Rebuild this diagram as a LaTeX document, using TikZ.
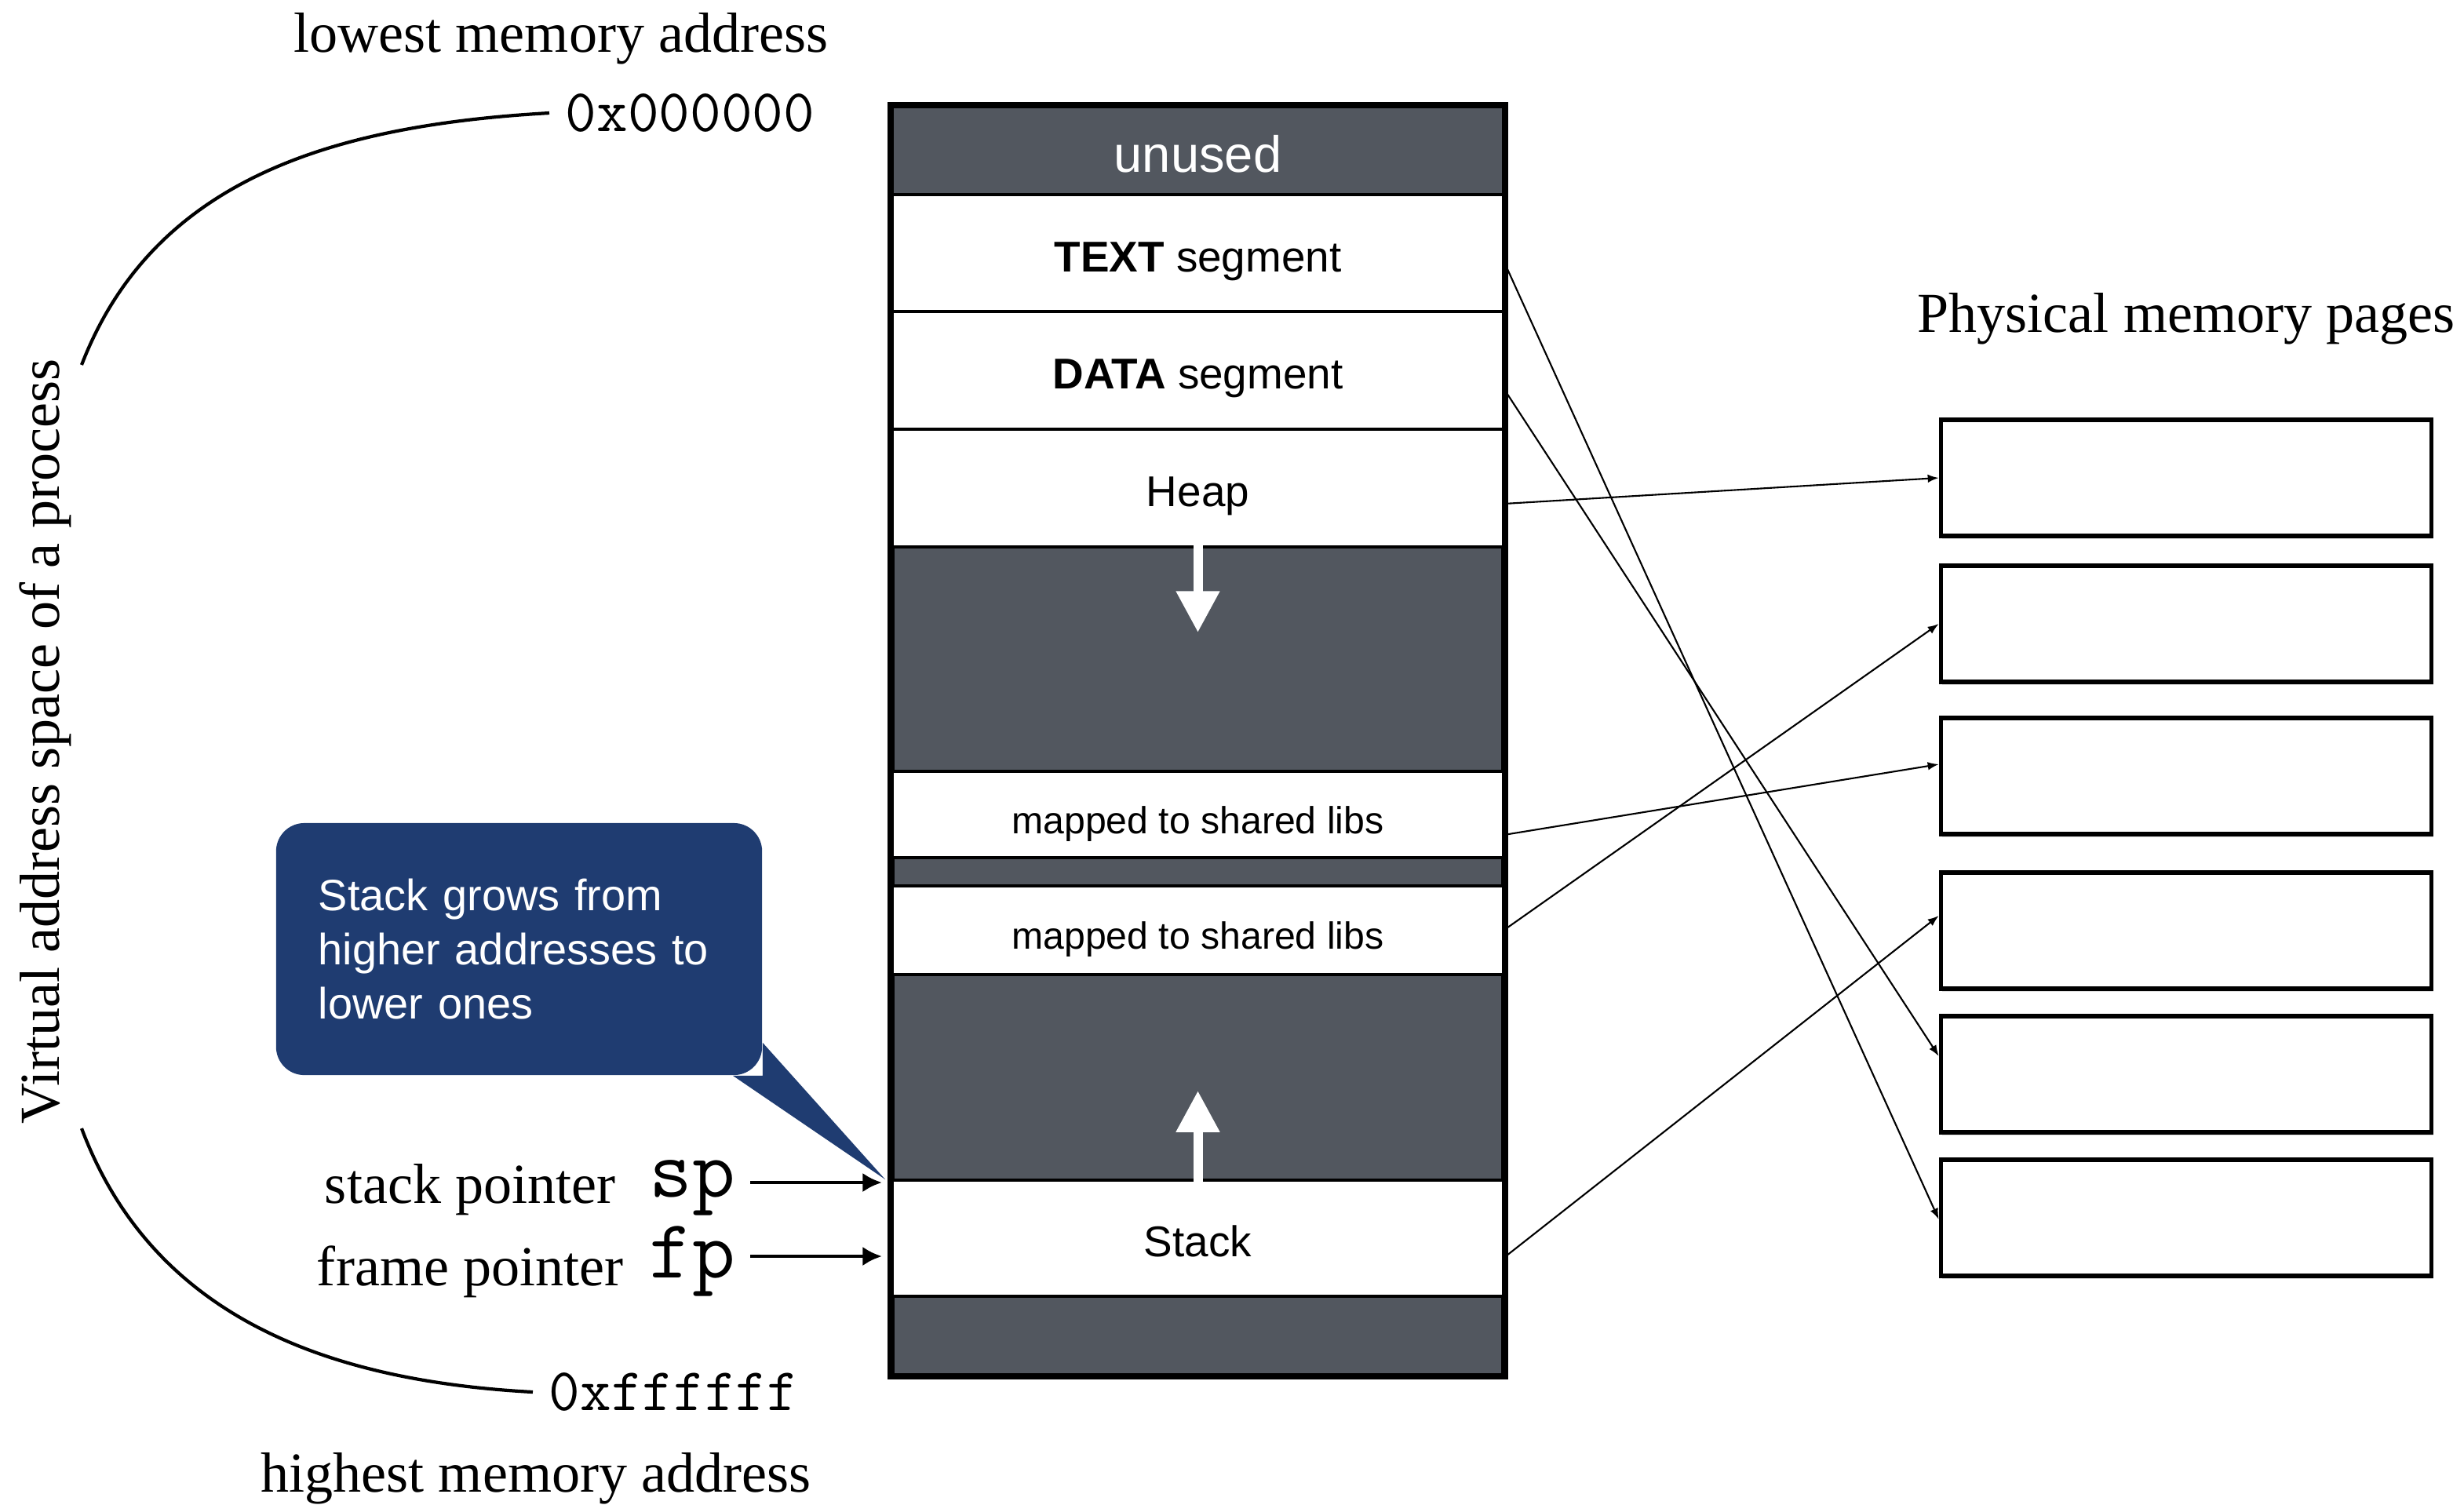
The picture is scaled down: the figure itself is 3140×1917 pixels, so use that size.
\documentclass[tikz,border=0pt]{standalone}
\usepackage{fontspec}
\setmainfont{Liberation Serif}
\setsansfont{Liberation Sans}
\usepackage{tikz}
\usetikzlibrary{arrows.meta,shadows}
\definecolor{gapgray}{HTML}{52575F}
\definecolor{notenavy}{HTML}{1F3C71}
\tikzstyle{Segment}=[rectangle, draw=black, line width=1.3pt, fill=white, minimum width=7.79cm, inner sep=0, outer sep=0, text height=13.4pt, text depth=0pt, font=\sffamily\fontsize{15.6}{18}\selectfont]
\tikzstyle{Page}=[rectangle, draw=black, line width=1.5pt, fill=white, minimum width=6.25cm, minimum height=1.48cm, drop shadow={shadow xshift=0.6pt, shadow yshift=-1.2pt, opacity=0.25}]
\tikzstyle{Serif}=[inner sep=0, font=\fontsize{20.5}{24}\selectfont]
\tikzstyle{Addr}=[inner sep=0, inner xsep=0.2cm, font=\ttfamily\fontsize{21.9}{24}\selectfont]
\tikzstyle{Reg}=[inner sep=0, inner xsep=0.18cm, font=\ttfamily\fontsize{30.3}{34}\selectfont]
\tikzstyle{Note}=[rectangle, fill=notenavy, text=white, rounded corners=0.36cm, minimum width=6.19cm, minimum height=3.21cm, text width=5.11cm, inner xsep=0.54cm, align=left, font=\sffamily\fontsize{15.9}{19.6}\selectfont]
\tikzstyle{Map}=[-{Latex[length=4pt,width=3pt]}, line width=0.6pt]
\tikzstyle{Pointer}=[-{Latex[length=7pt,width=7pt]}, line width=1.4pt]
\tikzstyle{Grow}=[draw=white, line width=3.4pt, -{Triangle[length=15pt,width=15pt]}, shorten <=-3pt]

\begin{document}
\begin{tikzpicture}[x=0.01cm, y=-0.01cm]
    \useasboundingbox (0,0) rectangle (3140,1917);

    % virtual address space
    \path (1526.5,944) node[rectangle, draw=black, line width=1.7pt, fill=gapgray, minimum width=7.79cm, minimum height=16.16cm] (mem) {};
    \path
    (1526.5,192) node[Segment, fill=gapgray, text=white, minimum height=1.12cm, text height=15.4pt, font=\sffamily\fontsize{18.5}{22}\selectfont] (unused) {unused}
    (1526.5,322.5) node[Segment, minimum height=1.49cm] (text) {\textbf{TEXT} segment}
    (1526.5,472) node[Segment, minimum height=1.5cm] (data) {\textbf{DATA} segment}
    (1526.5,622) node[Segment, minimum height=1.5cm] (heap) {Heap}
    (1526.5,1038) node[Segment, minimum height=1.1cm, text height=13.8pt, font=\sffamily\fontsize{13.7}{16}\selectfont] (libsa) {mapped to shared libs}
    (1526.5,1185.5) node[Segment, minimum height=1.13cm, text height=13.8pt, font=\sffamily\fontsize{13.7}{16}\selectfont] (libsb) {mapped to shared libs}
    (1526.5,1578) node[Segment, minimum height=1.48cm] (stack) {Stack};

    \coordinate (heapend) at (1526.5,806);
    \coordinate (stackend) at (1526.5,1390);
    \draw[Grow] (heap.south) -- (heapend);
    \draw[Grow] (stack.north) -- (stackend);
    \draw[line width=1.7pt] (mem.north west) rectangle (mem.south east);

    % physical pages
    \path
    (2786,423) node[Serif, anchor=base] (phys) {Physical memory pages}
    (2786,609) node[Page] (pga) {}
    (2786,795) node[Page] (pgb) {}
    (2786,989) node[Page] (pgc) {}
    (2786,1186) node[Page] (pgd) {}
    (2786,1369) node[Page] (pge) {}
    (2786,1552) node[Page] (pgf) {};

    \draw[Map] ([yshift=-0.1cm]text.east) -- ([yshift=-0.02cm]pgf.west);
    \draw[Map] ([yshift=-0.23cm]data.east) -- ([yshift=0.23cm]pge.west);
    \draw[Map] ([yshift=-0.2cm]heap.east) -- (pga.west);
    \draw[Map] ([yshift=-0.26cm]libsa.east) -- ([yshift=0.15cm]pgc.west);
    \draw[Map] (libsb.east) -- (pgb.west);
    \draw[Map] ([yshift=-0.25cm]stack.east) -- ([yshift=0.19cm]pgd.west);

    % address range
    \path
    (715,66) node[Serif, anchor=base] (lowest) {lowest memory address}
    (700,144) node[Addr, anchor=west] (lo) {0x000000}
    (679,1774) node[Addr, anchor=west] (hi) {0xffffff}
    (683,1901) node[Serif, anchor=base] (highest) {highest memory address}
    (58,945) node[Serif, rotate=90] (vas) {Virtual address space of a process};

    \coordinate (vtop) at (104,465);
    \coordinate (vbot) at (104,1438);
    \draw[line width=1.2pt] (lo.west) .. controls (420,160) and (195,230) .. (vtop);
    \draw[line width=1.2pt] (hi.west) .. controls (420,1760) and (195,1680) .. (vbot);

    % pointers
    \path
    (785,1533) node[Serif, anchor=base east] (stackptr) {stack pointer}
    (809,1525) node[Reg, anchor=base west] (sp) {sp}
    (795,1638) node[Serif, anchor=base east] (frameptr) {frame pointer}
    (809,1628) node[Reg, anchor=base west] (fp) {fp};

    \coordinate (spend) at (1124,1507);
    \coordinate (fpend) at (1124,1601);
    \draw[Pointer] (sp.east |- spend) -- (spend);
    \draw[Pointer] (fp.east |- fpend) -- (fpend);

    % callout
    \path (661.5,1209.5) node[Note] (note) {Stack grows from\\higher addresses to\\lower ones};
    \coordinate (notetip) at (1128,1503);
    \fill[notenavy] ([xshift=-0.38cm]note.south east) -- (notetip) -- ([yshift=0.42cm]note.south east) -- (note.south east) -- cycle;
\end{tikzpicture}
\end{document}
